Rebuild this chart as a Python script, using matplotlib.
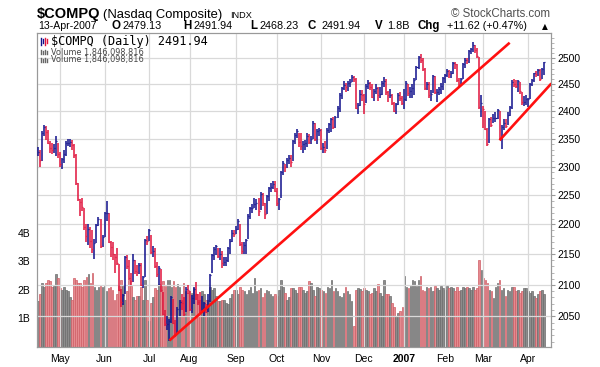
import numpy as np
import pandas as pd
import matplotlib
matplotlib.use("Agg")
import matplotlib.pyplot as plt
from matplotlib.ticker import FixedLocator, NullFormatter
from matplotlib.lines import Line2D

plt.rcParams['font.family'] = ['Liberation Sans', 'DejaVu Sans']

# trading days 13-Apr-2006 .. 13-Apr-2007
holidays = ['2006-04-14', '2006-05-29', '2006-07-04', '2006-09-04', '2006-11-23',
            '2006-12-25', '2007-01-01', '2007-01-02', '2007-01-15', '2007-02-19',
            '2007-04-06']
dates = pd.bdate_range('2006-04-13', '2007-04-13')
dates = dates[~dates.isin(pd.to_datetime(holidays))]

prev_close = 2320.0  # close before first bar

close = [
    2326, 2311, 2361, 2371, 2362, 2343, 2333, 2330, 2334, 2345, 2323,
    2304, 2314, 2323, 2342, 2342, 2344, 2338, 2321, 2272, 2243, 2238, 2229, 2195, 2180, 2193, 2172, 2158, 2169, 2199, 2210, 2164, 2179,
    2219, 2220, 2170, 2162, 2151, 2145, 2135, 2092, 2072, 2084, 2145, 2130, 2111, 2107, 2141, 2122, 2121, 2133, 2100, 2112, 2174, 2172,
    2190, 2153, 2156, 2131, 2117, 2128, 2091, 2054, 2037, 2037, 2043, 2080, 2040, 2020, 2062, 2073, 2071, 2054, 2094, 2091,
    2062, 2079, 2093, 2086, 2073, 2060, 2061, 2071, 2057, 2069, 2116, 2149, 2158, 2163, 2147, 2150, 2135, 2138, 2140, 2160, 2172, 2185, 2184,
    2193, 2205, 2167, 2155, 2165, 2173, 2215, 2228, 2228, 2235, 2236, 2222, 2252, 2237, 2218, 2249, 2262, 2264, 2270, 2258,
    2237, 2243, 2290, 2306, 2300, 2311, 2315, 2308, 2346, 2357, 2363, 2344, 2337, 2340, 2342, 2355, 2344, 2349, 2379, 2350, 2363, 2366,
    2334, 2335, 2330, 2366, 2376, 2385, 2372, 2390, 2406, 2430, 2443, 2449, 2445, 2452, 2455, 2465, 2460, 2406, 2412, 2432, 2431,
    2413, 2448, 2452, 2445, 2427, 2437, 2443, 2431, 2432, 2453, 2457, 2435, 2430, 2430, 2416, 2401, 2413, 2431, 2425, 2415,
    2423, 2453, 2434, 2438, 2443, 2459, 2484, 2502, 2497, 2480, 2443, 2451, 2431, 2432, 2466, 2435, 2435, 2441, 2448, 2463,
    2468, 2475, 2470, 2471, 2490, 2488, 2459, 2450, 2460, 2488, 2497, 2496, 2514, 2518, 2525, 2515, 2504, 2408, 2416,
    2404, 2368, 2341, 2385, 2375, 2387, 2387, 2402, 2350, 2372, 2378, 2373, 2394, 2408, 2455, 2451, 2448, 2456, 2437, 2417, 2418, 2422,
    2423, 2450, 2458, 2471, 2469, 2477, 2460, 2480.32, 2491.94,
]
high = [
    2335, 2330, 2363, 2375, 2373, 2365, 2345, 2342, 2340, 2355, 2343,
    2326, 2316, 2330, 2346, 2350, 2350, 2348, 2340, 2322, 2272, 2244, 2245, 2228, 2200, 2200, 2195, 2190, 2175, 2200, 2212, 2210, 2182,
    2221, 2240, 2220, 2172, 2170, 2150, 2160, 2134, 2093, 2086, 2147, 2148, 2140, 2120, 2150, 2140, 2132, 2135, 2135, 2115, 2176, 2180,
    2192, 2182, 2163, 2160, 2138, 2131, 2126, 2088, 2060, 2050, 2045, 2082, 2078, 2044, 2064, 2075, 2085, 2080, 2096, 2100,
    2090, 2083, 2096, 2104, 2085, 2088, 2082, 2073, 2070, 2085, 2118, 2150, 2162, 2165, 2160, 2160, 2155, 2145, 2145, 2162, 2175, 2190, 2190,
    2198, 2210, 2200, 2170, 2170, 2175, 2217, 2230, 2235, 2245, 2244, 2245, 2255, 2254, 2236, 2250, 2265, 2272, 2275, 2275,
    2262, 2246, 2292, 2310, 2305, 2315, 2320, 2320, 2348, 2360, 2368, 2360, 2360, 2345, 2348, 2360, 2358, 2355, 2382, 2378, 2368, 2370,
    2368, 2342, 2345, 2370, 2378, 2388, 2390, 2392, 2410, 2434, 2446, 2457, 2452, 2456, 2460, 2468, 2466, 2462, 2415, 2440, 2440,
    2432, 2450, 2458, 2455, 2450, 2442, 2450, 2446, 2445, 2456, 2465, 2460, 2438, 2442, 2432, 2418, 2415, 2434, 2435, 2428,
    2442, 2456, 2450, 2445, 2450, 2462, 2486, 2505, 2508, 2500, 2482, 2455, 2455, 2440, 2468, 2466, 2442, 2446, 2452, 2465,
    2470, 2480, 2478, 2476, 2492, 2493, 2488, 2462, 2463, 2490, 2500, 2500, 2515, 2520, 2532, 2526, 2520, 2503, 2430,
    2410, 2400, 2370, 2388, 2390, 2395, 2398, 2405, 2400, 2375, 2385, 2385, 2398, 2410, 2458, 2460, 2458, 2458, 2455, 2436, 2428, 2430,
    2425, 2452, 2460, 2472, 2476, 2479, 2480, 2482, 2491.94,
]
low = [
    2318, 2300, 2310, 2355, 2348, 2340, 2325, 2322, 2325, 2318, 2315,
    2300, 2295, 2306, 2318, 2336, 2335, 2330, 2316, 2268, 2240, 2215, 2222, 2190, 2170, 2165, 2160, 2152, 2142, 2168, 2198, 2160, 2162,
    2178, 2205, 2168, 2145, 2140, 2120, 2132, 2090, 2065, 2068, 2086, 2125, 2108, 2100, 2105, 2118, 2114, 2118, 2098, 2095, 2112, 2166,
    2172, 2150, 2145, 2127, 2112, 2100, 2089, 2052, 2035, 2028, 2012, 2040, 2038, 2018, 2022, 2050, 2060, 2050, 2056, 2085,
    2058, 2055, 2070, 2075, 2068, 2055, 2058, 2050, 2055, 2056, 2072, 2120, 2140, 2148, 2144, 2140, 2128, 2130, 2130, 2138, 2150, 2170, 2178,
    2183, 2190, 2164, 2150, 2150, 2150, 2175, 2210, 2220, 2228, 2225, 2215, 2225, 2232, 2210, 2218, 2240, 2255, 2260, 2255,
    2232, 2225, 2245, 2285, 2290, 2298, 2305, 2300, 2310, 2340, 2352, 2335, 2330, 2325, 2330, 2335, 2340, 2340, 2350, 2345, 2340, 2355,
    2330, 2325, 2325, 2332, 2360, 2362, 2368, 2370, 2388, 2398, 2422, 2440, 2436, 2438, 2445, 2455, 2454, 2404, 2395, 2410, 2420,
    2395, 2415, 2442, 2440, 2425, 2420, 2432, 2420, 2425, 2430, 2445, 2430, 2418, 2425, 2412, 2398, 2395, 2412, 2420, 2412,
    2405, 2420, 2428, 2425, 2425, 2430, 2458, 2480, 2490, 2475, 2440, 2440, 2425, 2420, 2434, 2432, 2418, 2430, 2432, 2440,
    2452, 2465, 2462, 2462, 2470, 2480, 2455, 2445, 2450, 2460, 2482, 2488, 2490, 2508, 2512, 2510, 2500, 2405, 2390,
    2370, 2366, 2336, 2342, 2372, 2378, 2380, 2385, 2348, 2331, 2365, 2370, 2375, 2392, 2405, 2445, 2444, 2435, 2432, 2412, 2410, 2412,
    2408, 2422, 2448, 2455, 2465, 2466, 2456, 2460, 2468.23,
]
# volume in billions of shares
volume = [
    1.60, 1.85, 2.25, 2.10, 2.25, 2.35, 2.30, 2.10, 2.15, 2.55, 2.40,
    2.05, 2.00, 2.10, 2.00, 1.95, 1.75, 1.65, 2.40, 2.35, 2.25, 2.25, 2.10, 2.35, 2.45, 2.55, 2.25, 2.60, 2.10, 2.00, 2.10, 2.15, 2.10,
    2.15, 1.95, 2.05, 2.10, 2.00, 1.65, 1.85, 2.15, 2.35, 2.15, 1.65, 1.95, 2.35, 2.15, 1.75, 1.65, 1.80, 1.80, 2.10, 1.65, 2.35, 1.65,
    0.90, 1.55, 1.75, 2.05, 2.00, 2.20, 2.15, 2.30, 2.15, 2.35, 2.35, 2.10, 2.30, 2.10, 2.20, 2.10, 1.65, 2.25, 1.95, 1.90,
    1.95, 1.90, 2.05, 1.85, 1.65, 1.65, 1.95, 1.85, 1.65, 1.65, 2.10, 2.00, 2.05, 1.80, 1.60, 1.60, 1.65, 1.65, 1.55, 1.50, 1.70, 1.85, 2.00,
    2.00, 1.85, 2.10, 2.00, 1.95, 1.85, 2.00, 2.10, 1.90, 2.40, 1.95, 2.00, 2.05, 1.75, 1.90, 2.00, 1.95, 1.85, 1.80, 1.85,
    1.80, 2.00, 2.35, 2.10, 1.90, 1.65, 1.75, 2.05, 2.05, 2.00, 1.90, 2.10, 2.10, 2.00, 1.90, 1.95, 2.30, 2.25, 2.00, 1.80, 2.10, 2.05,
    2.00, 1.95, 1.90, 2.10, 2.08, 2.35, 1.95, 2.08, 1.95, 1.80, 1.75, 1.90, 2.10, 1.95, 1.85, 1.60, 0.75, 2.00, 2.05, 2.02, 1.95,
    2.05, 2.00, 1.95, 1.85, 1.90, 2.05, 1.95, 2.20, 1.90, 1.80, 2.35, 1.85, 1.85, 1.80, 1.55, 1.40, 1.10, 1.20, 1.25, 1.40,
    2.50, 2.10, 2.05, 2.15, 2.35, 2.30, 2.15, 2.35, 2.50, 2.00, 1.95, 2.10, 2.05, 2.10, 1.95, 2.15, 2.05, 2.00, 2.15, 2.05,
    2.00, 2.15, 2.05, 2.10, 2.05, 1.95, 2.10, 1.95, 2.00, 2.10, 2.05, 2.10, 2.05, 2.00, 2.10, 2.00, 2.05, 3.05, 2.70,
    2.40, 2.35, 2.25, 2.00, 1.95, 1.70, 2.10, 2.25, 2.35, 2.00, 2.05, 1.80, 2.00, 1.95, 2.10, 2.10, 1.95, 2.00, 1.90, 1.95, 2.05, 2.05,
    1.95, 1.90, 1.95, 1.80, 1.70, 1.85, 1.95, 2.00, 1.85,
]

# hand drawn trend lines (bar position, price)
trend1_pos = [65, 233]
trend1_val = [2012, 2530]
trend2_pos = [228, 253.6]
trend2_val = [2347, 2452]

month_names = ['May', 'Jun', 'Jul', 'Aug', 'Sep', 'Oct', 'Nov', 'Dec', '2007', 'Feb', 'Mar', 'Apr']
price_ticks = [2050, 2100, 2150, 2200, 2250, 2300, 2350, 2400, 2450, 2500]
vol_ticks = [1, 2, 3, 4]

assert len(dates) == len(close) == len(high) == len(low) == len(volume), \
    (len(dates), len(close), len(high), len(low), len(volume))

x = np.arange(len(close))
c = np.array(close, dtype=float)
prev = np.concatenate([[prev_close], c[:-1]])
up = c >= prev

BLUE = '#10108c'
RED = '#e0143c'
bar_col = np.where(up, BLUE, RED)
vol_col = np.where(up, '#8c8c8c', '#e58a8f')
vol_edge = np.where(up, '#6c6c6c', '#cf5e66')

W, H = 600, 367
fig = plt.figure(figsize=(6, 3.67), dpi=100)
L, R, T, B = 37, 551, 33, 347
ax_v = fig.add_axes([L / W, 1 - B / H, (R - L) / W, (B - T) / H])
ax_p = ax_v.twinx()

# volume
ax_v.bar(x, volume, width=0.8, color=vol_col, edgecolor=vol_edge, linewidth=0.5)
ax_v.set_ylim(0, 11.0)
ax_v.set_yticks(vol_ticks)
ax_v.set_yticklabels([f'{v}B' for v in vol_ticks])

# price
ax_p.set_yscale('log')
ax_p.vlines(x, low, high, colors=bar_col, linewidth=1.1, zorder=3)
ax_p.hlines(c, x, x + 0.5, colors=bar_col, linewidth=0.9, zorder=3)
ax_p.plot(trend1_pos, trend1_val, color='#ff1010', linewidth=1.9, zorder=4, solid_capstyle='butt')
ax_p.plot(trend2_pos, trend2_val, color='#ff1010', linewidth=1.9, zorder=4, solid_capstyle='butt')
ax_p.set_ylim(2002, 2549)
ax_p.yaxis.set_major_locator(FixedLocator(price_ticks))
ax_p.yaxis.set_major_formatter(matplotlib.ticker.FixedFormatter([str(t) for t in price_ticks]))
ax_p.yaxis.set_minor_locator(FixedLocator(list(range(2010, 2550, 10))))
ax_p.yaxis.set_minor_formatter(NullFormatter())

ax_v.set_xlim(-0.35, 253.4)

# month gridlines
month_pos = []
for i in range(1, len(dates)):
    if dates[i].month != dates[i - 1].month:
        month_pos.append(i)
ax_v.set_xticks(month_pos)
ax_v.set_xticklabels(month_names)
for lab in ax_v.get_xticklabels():
    if lab.get_text() == '2007':
        lab.set_fontweight('bold')

ax_p.set_axisbelow(True)
ax_p.grid(True, which='major', axis='y', color='#d9d9d9', linewidth=0.9)
for p in month_pos:
    ax_p.axvline(p, color='#d9d9d9', linewidth=0.9, zorder=0.5)

for a in (ax_v, ax_p):
    for s in a.spines.values():
        s.set_color('#999999')
        s.set_linewidth(0.8)
ax_v.tick_params(axis='x', length=0, pad=5, labelsize=7.5)
ax_v.tick_params(axis='y', length=0, pad=5, labelsize=7.5)
ax_p.tick_params(axis='y', which='major', length=3, color='#999999', pad=1.5, labelsize=7.5)
ax_p.tick_params(axis='y', which='minor', length=2, color='#aaaaaa')


def ftext(px, py, s, **kw):
    return fig.text(px / W, 1 - py / H, s, **kw)


# header
ftext(37, 18, '$COMPQ', fontsize=10.5, fontweight='bold', va='baseline')
ftext(103, 18, '(Nasdaq Composite)', fontsize=9.4, va='baseline')
ftext(230, 18, 'INDX', fontsize=6.6, va='baseline')
ftext(550, 17, '\u00a9 StockCharts.com', fontsize=8.3, color='#505050', ha='right', va='baseline')

y2 = 29
ftext(38, y2, '13-Apr-2007', fontsize=7.6, va='baseline')
pieces = [(112, 'O', True), (123, '2479.13', False), (183, 'H', True), (194, '2491.94', False),
          (250, 'L', True), (259, '2468.23', False), (308, 'C', True), (321, '2491.94', False),
          (375, 'V', True), (387, '1.8B', False), (418, 'Chg', True), (447, '+11.62 (+0.47%)', False)]
for px, s, bold in pieces:
    ftext(px, y2, s, fontsize=8.3 if bold else 7.8, fontweight='bold' if bold else 'normal', va='baseline')
ftext(542, y2, '\u25b2', fontsize=5.5, va='baseline', family='DejaVu Sans')

# legend inside plot
ftext(51, 45, '$COMPQ (Daily) 2491.94', fontsize=8.6, family='DejaVu Sans Mono', va='baseline')
ftext(51, 54.5, 'Volume 1,846,098,816', fontsize=5.9, family='DejaVu Sans', color='#444444', va='baseline')
ftext(51, 62, 'Volume 1,846,098,816', fontsize=5.9, family='DejaVu Sans', color='#444444', va='baseline')
# small legend icons
for k, (dx, col) in enumerate([(41, BLUE), (43, BLUE), (45, RED), (47, RED)]):
    fig.add_artist(Line2D([dx / W, dx / W], [1 - (45 - k % 2 * 2) / H, 1 - (38 + k % 2) / H],
                          color=col, linewidth=1.0))
for k, dx in enumerate([41, 43, 45, 47]):
    fig.add_artist(Line2D([dx / W, dx / W], [1 - 54 / H, 1 - (50 + k % 2) / H], color='#666666', linewidth=1.0))
    fig.add_artist(Line2D([dx / W, dx / W], [1 - 61.5 / H, 1 - (57.5 + k % 2) / H], color='#666666', linewidth=1.0))

fig.savefig('out.png', dpi=100)
